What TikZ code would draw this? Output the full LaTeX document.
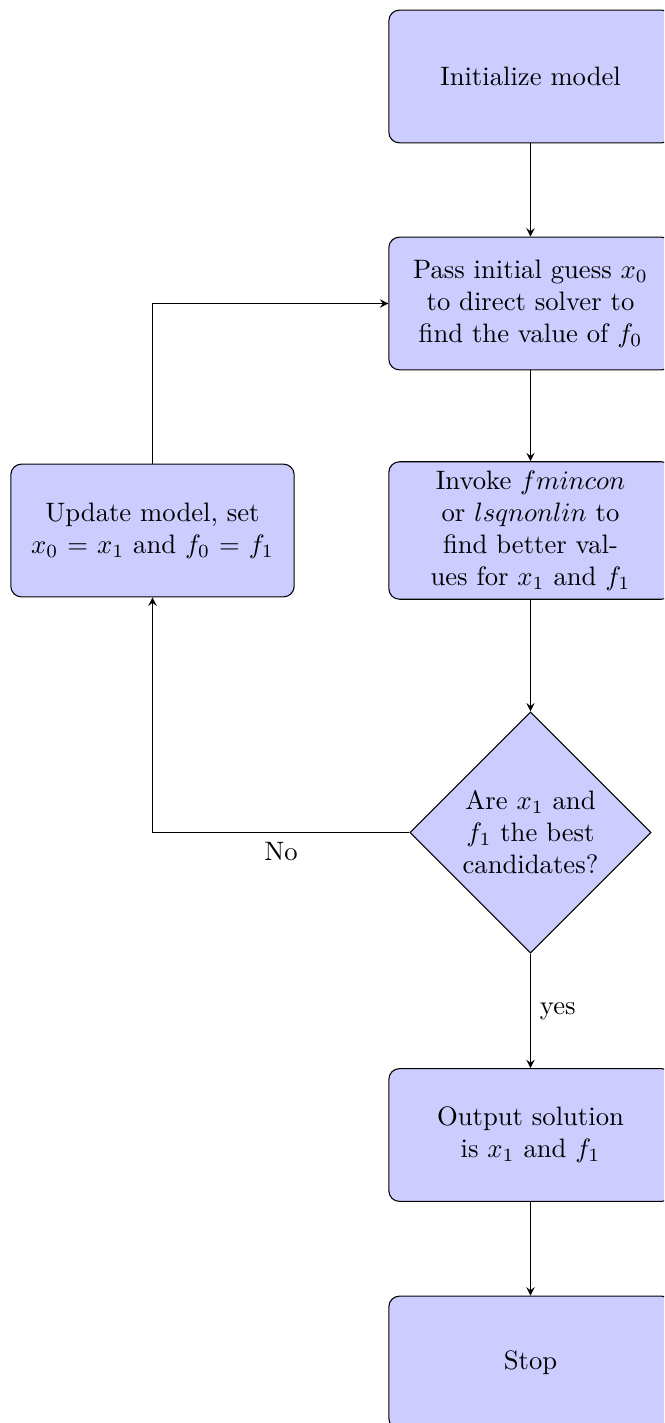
\documentclass[tikz,border=0pt]{standalone}
\usetikzlibrary{shapes.geometric,arrows}
\begin{document}
\begin{tikzpicture}[x=0.375pt,y=-0.375pt,
  block/.style={rectangle,draw=black,fill=blue!20,rounded corners=4pt,
    text width=3.5cm,align=center,minimum height=1.75cm},
  decision/.style={diamond,aspect=1,draw=black,fill=blue!20,
    minimum size=90.4pt,inner sep=1pt,align=center},
  flow/.style={draw,-stealth}]
\useasboundingbox (0,0) rectangle (664,1423);
\clip (0,0) rectangle (664,1423);

\node[block] (init) at (530.5,76.5) {Initialize model};
\node[block] (pass) at (530.5,303.5) {Pass initial guess $x_0$\\ to direct solver to\\ find the value of $f_0$};
\node[block] (inv) at (530.5,530.5) {Invoke $fmincon$\\ or $lsqnonlin$ to\\ find better val-\\ues for $x_1$ and $f_1$};
\node[block] (upd) at (152.5,530.5) {Update model, set\\ $x_0=x_1$ and $f_0=f_1$};
\node[decision] (best) at (530.5,832.5) {Are $x_1$ and\\ $f_1$ the best\\ candidates?};
\node[block] (out) at (530.5,1135) {Output solution\\ is $x_1$ and $f_1$};
\node[block] (stop) at (530.5,1362.5) {Stop};

\draw[flow] (init) -- (pass);
\draw[flow] (pass) -- (inv);
\draw[flow] (inv) -- (best);
\draw[flow] (best.west) -| node[pos=0.25,below] {No} (upd.south);
\draw[flow] (upd.north) |- (pass.west);
\draw[flow] (best.south) -- node[right] {yes} (out.north);
\draw[flow] (out) -- (stop);
\end{tikzpicture}
\end{document}
